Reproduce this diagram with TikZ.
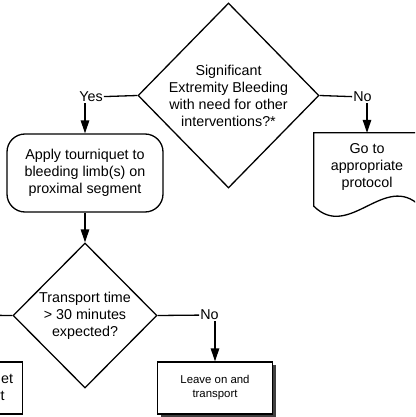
\documentclass[tikz,border=0pt]{standalone}
\usepackage{fontspec}
\setmainfont{Liberation Sans}
\usepackage{tikz}
\usetikzlibrary{arrows.meta,positioning,shapes.geometric,shadows}
\tikzset{
  mainfont/.style={font=\fontsize{14.3}{17}\selectfont},
  smallfont/.style={font=\fontsize{11.4}{14}\selectfont},
  decision/.style={draw, diamond, aspect=1, inner sep=0pt, line width=1.3pt},
  qtext/.style={mainfont, align=center, inner sep=0pt},
  roundbox/.style={draw, rounded corners=18pt, minimum width=156pt, minimum height=78pt, line width=1.3pt, mainfont, align=center},
  procbox/.style={draw, fill=white, minimum height=52pt, line width=1.3pt, align=center},
  shadowbox/.style={procbox, drop shadow={shadow xshift=3pt, shadow yshift=-3pt, fill=black!75, opacity=1}},
  docnode/.style={minimum width=106pt, minimum height=67pt, mainfont, align=center},
  lbl/.style={mainfont, inner sep=1pt},
  arc/.style={-{Triangle[length=13pt, width=8.5pt]}, line width=1.3pt},
  plainline/.style={line width=1.3pt}
}
\begin{document}
\begin{tikzpicture}[x=1pt, y=-1pt]
  \path[use as bounding box] (0,0) rectangle (415,417);
  \clip (0,0) rectangle (415,417);

  \node[decision, minimum width=181pt, minimum height=185pt] (bleed) at (228.5,95.5) {};
  \node[qtext] (bleedq) at (bleed) {Significant\\Extremity Bleeding\\with need for other\\interventions?*};
  \node[lbl] (yes1) at (91,97) {Yes};
  \node[lbl] (no1) at (362.5,97) {No};

  \node[roundbox] (apply) at (85,173) {Apply tourniquet to\\bleeding limb(s) on\\proximal segment};
  \node[docnode] (proto) at (367,166.5) {Go to\\appropriate\\protocol};
  \draw[plainline] (proto.north west) -- (proto.north east) -- ([yshift=-6pt]proto.south east)
    .. controls +(-35.3,-35) and +(35.3,35) .. ([yshift=-6pt]proto.south west) -- cycle;

  \node[decision, minimum width=144pt, minimum height=145pt] (transp) at (85,315.5) {};
  \node[qtext] (transpq) at (transp) {Transport time\\> 30 minutes\\expected?};
  \node[lbl] (yes2) at (-40,315) {Yes};
  \node[lbl] (no2) at (209.5,315) {No};

  \node[procbox, mainfont, minimum width=137pt] (convert) at (-45.8,388) {Convert tourniquet\\before transport};
  \node[shadowbox, smallfont, minimum width=115pt] (leave) at (215,388) {Leave on and\\transport};

  \draw[plainline] (yes1) -- (bleed.west);
  \draw[plainline] (bleed.east) -- (no1);
  \draw[arc] (yes1.south -| apply.north) -- (apply.north);
  \draw[arc] (no1.south -| proto.north) -- (proto.north);
  \draw[arc] (apply) -- (transp.north);
  \draw[plainline] (yes2) -- (transp.west);
  \draw[plainline] (transp.east) -- (no2);
  \draw[arc] (yes2.south -| convert.north) -- (convert.north);
  \draw[arc] (no2.south -| leave.north) -- (leave.north);
\end{tikzpicture}
\end{document}
